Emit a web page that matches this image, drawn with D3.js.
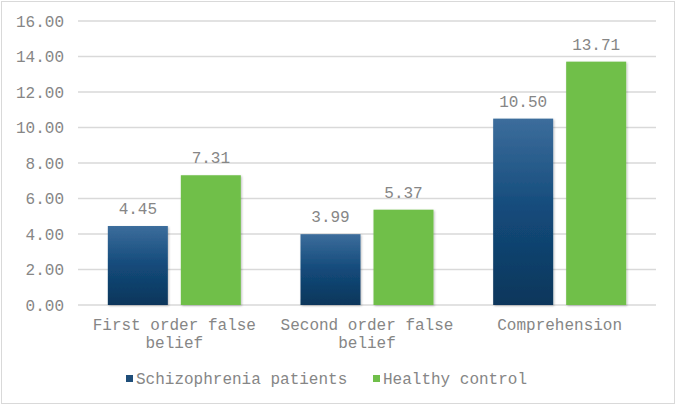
<!DOCTYPE html>
<html><head><meta charset="utf-8">
<script src="https://cdn.jsdelivr.net/npm/d3@7/dist/d3.min.js"></script>
<style>body{margin:0;background:#fff}svg{display:block}</style>
</head><body><svg id="c" width="678" height="408"></svg>
<script>
const categories = [["First order false","belief"],["Second order false","belief"],["Comprehension"]];
const seriesNames = ["Schizophrenia patients","Healthy control"];
const schizophrenia = [4.45, 3.99, 10.50];
const healthy = [7.31, 5.37, 13.71];
const yTicks = [0,2,4,6,8,10,12,14,16];

const svg = d3.select("#c");
const font = "'Liberation Mono','Courier New',monospace";
const txt = "#868686";
const W=678,H=408;
const m={l:78,r:22,t:21,b:103};
svg.append("rect").attr("x",1.5).attr("y",1.5).attr("width",W-5).attr("height",H-6)
  .attr("fill","#fff").attr("stroke","#d9d9d9");

const defs=svg.append("defs");
const g1=defs.append("linearGradient").attr("id","gb").attr("x1",0).attr("y1",0).attr("x2",0).attr("y2",1);
g1.append("stop").attr("offset","0%").attr("stop-color","#3c6d9c");
g1.append("stop").attr("offset","50%").attr("stop-color","#134a7a");
g1.append("stop").attr("offset","100%").attr("stop-color","#0c365b");
const f=defs.append("filter").attr("id","sh").attr("x","-20%").attr("y","-20%").attr("width","140%").attr("height","140%");
f.append("feDropShadow").attr("dx",1).attr("dy",1).attr("stdDeviation",1.2).attr("flood-color","#000").attr("flood-opacity",0.25);

const x=d3.scaleBand().domain(d3.range(categories.length)).range([m.l,W-m.r]).paddingInner(0).paddingOuter(0);
const y=d3.scaleLinear().domain([0,16]).range([H-m.b,m.t]);

svg.append("g").selectAll("line").data(yTicks).join("line")
  .attr("x1",m.l).attr("x2",W-m.r).attr("y1",d=>y(d)).attr("y2",d=>y(d))
  .attr("stroke","#d9d9d9").attr("stroke-width",1.3);

const yAxis=svg.append("g").attr("transform",`translate(${m.l},0)`)
  .call(d3.axisLeft(y).tickValues(yTicks).tickFormat(d3.format(".2f")).tickSize(0).tickPadding(14));
yAxis.select(".domain").remove();
yAxis.selectAll("text").attr("font-family",font).attr("font-size",16).attr("fill",txt);

const barW=60, gap=13;
const series=[schizophrenia,healthy];
const fills=["url(#gb)","#70bf4a"];
series.forEach((vals,si)=>{
  const gg=svg.append("g");
  gg.selectAll("rect").data(vals).join("rect")
    .attr("x",(d,i)=>x(i)+x.bandwidth()/2 + (si===0? -gap/2-barW : gap/2))
    .attr("y",d=>y(d)).attr("width",barW).attr("height",d=>y(0)-y(d))
    .attr("fill",fills[si]).attr("filter","url(#sh)");
  gg.selectAll("text").data(vals).join("text")
    .attr("x",(d,i)=>x(i)+x.bandwidth()/2 + (si===0? -gap/2-barW/2 : gap/2+barW/2))
    .attr("y",d=>y(d)-12).attr("text-anchor","middle")
    .attr("font-family",font).attr("font-size",16).attr("fill",txt)
    .text(d=>d3.format(".2f")(d));
});

const xl=svg.append("g");
categories.forEach((lines,i)=>{
  const t=xl.append("text").attr("x",x(i)+x.bandwidth()/2).attr("y",330).attr("text-anchor","middle")
    .attr("font-family",font).attr("font-size",16).attr("fill",txt);
  lines.forEach((l,j)=>t.append("tspan").attr("x",x(i)+x.bandwidth()/2).attr("dy",j?18:0).text(l));
});

const leg=svg.append("g");
const legX=[126,373];
const legC=["#1f4e79","#70bf4a"];
seriesNames.forEach((n,i)=>{
  leg.append("rect").attr("x",legX[i]).attr("y",375).attr("width",7).attr("height",7).attr("fill",legC[i]);
  leg.append("text").attr("x",legX[i]+10).attr("y",384).attr("font-family",font).attr("font-size",16).attr("fill",txt).text(n);
});
</script></body></html>
